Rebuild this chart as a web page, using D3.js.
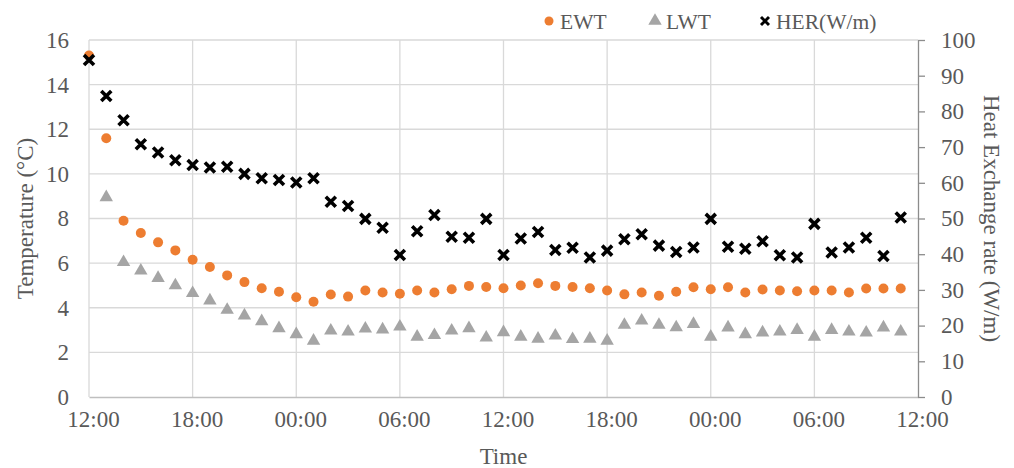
<!DOCTYPE html>
<html>
<head>
<meta charset="utf-8">
<script src="https://cdn.jsdelivr.net/npm/d3@7"></script>
<style>
  html, body { margin: 0; padding: 0; background: #fff; }
  svg { display: block; font-family: "Liberation Serif", "Times New Roman", serif; }
</style>
</head>
<body>
<svg id="chart" width="1014" height="468"></svg>
<script>
// Hourly samples, hour 0 = 12:00 on day 1, through 11:00 on day 3
const hours = d3.range(48);
const timeTickHours = [0, 6, 12, 18, 24, 30, 36, 42, 48];
const timeTickLabels = ["12:00", "18:00", "00:00", "06:00", "12:00", "18:00", "00:00", "06:00", "12:00"];

// Entering water temperature (°C)
const ewt = [15.3, 11.6, 7.9, 7.35, 6.93, 6.57, 6.15, 5.83, 5.45, 5.15,
             4.87, 4.72, 4.47, 4.27, 4.59, 4.50, 4.77, 4.68, 4.63, 4.77,
             4.68, 4.83, 4.98, 4.93, 4.87, 5.00, 5.10, 4.98, 4.93, 4.87,
             4.77, 4.60, 4.68, 4.54, 4.72, 4.92, 4.83, 4.92, 4.68, 4.82,
             4.77, 4.74, 4.77, 4.77, 4.68, 4.86, 4.86, 4.86];

// Leaving water temperature (°C); no reading at the first hour
const lwt = [null, 8.95, 6.04, 5.66, 5.33, 5.00, 4.65, 4.32, 3.90, 3.65,
             3.39, 3.08, 2.81, 2.52, 2.97, 2.93, 3.06, 3.02, 3.15, 2.70,
             2.77, 2.97, 3.08, 2.66, 2.90, 2.70, 2.61, 2.75, 2.59, 2.61,
             2.52, 3.23, 3.42, 3.23, 3.12, 3.27, 2.70, 3.11, 2.81, 2.89,
             2.93, 3.00, 2.70, 3.00, 2.93, 2.88, 3.11, 2.93];

// Heat exchange rate (W/m)
const her = [94.4, 84.3, 77.5, 70.8, 68.5, 66.3, 65.0, 64.3, 64.5, 62.5,
             61.3, 60.8, 60.1, 61.3, 54.7, 53.5, 49.9, 47.4, 39.8, 46.4,
             51.0, 44.9, 44.6, 49.9, 39.8, 44.4, 46.2, 41.2, 41.8, 39.1,
             41.0, 44.2, 45.6, 42.4, 40.6, 41.9, 49.9, 42.1, 41.5, 43.6,
             39.7, 39.1, 48.5, 40.5, 41.9, 44.6, 39.5, 50.3];

const tempTicks = [0, 2, 4, 6, 8, 10, 12, 14, 16];
const herTicks = [0, 10, 20, 30, 40, 50, 60, 70, 80, 90, 100];

const legendItems = [
  { key: "EWT", label: "EWT" },
  { key: "LWT", label: "LWT" },
  { key: "HER", label: "HER(W/m)" }
];

// Layout
const plotLeft = 89, plotRight = 918, plotTop = 40, plotBottom = 397;
const textColor = "#595959";
const gridColor = "#d9d9d9";
const orange = "#ED7D31";
const grey = "#A5A5A5";

const svg = d3.select("#chart");

const x = d3.scaleLinear().domain([0, 48]).range([plotLeft, plotRight]);
const yT = d3.scaleLinear().domain([0, 16]).range([plotBottom, plotTop]);
const yH = d3.scaleLinear().domain([0, 100]).range([plotBottom, plotTop]);

// Gridlines
const grid = svg.append("g");
grid.selectAll("line.h").data(tempTicks.filter(d => d > 0)).join("line")
  .attr("class", "h")
  .attr("x1", plotLeft).attr("x2", plotRight)
  .attr("y1", d => yT(d)).attr("y2", d => yT(d))
  .attr("stroke", gridColor).attr("stroke-width", 1.3);
grid.selectAll("line.v").data(timeTickHours.slice(0, -1)).join("line")
  .attr("class", "v")
  .attr("x1", d => x(d)).attr("x2", d => x(d))
  .attr("y1", plotTop).attr("y2", plotBottom)
  .attr("stroke", gridColor).attr("stroke-width", 1.3);

// Bottom axis
const xAxis = svg.append("g")
  .attr("transform", `translate(0,${plotBottom})`)
  .call(d3.axisBottom(x)
    .tickValues(timeTickHours)
    .tickFormat((d, i) => timeTickLabels[i])
    .tickSize(0)
    .tickPadding(13));
xAxis.select(".domain").attr("stroke", "#bfbfbf").attr("stroke-width", 1.3);
xAxis.selectAll("text")
  .attr("fill", textColor).attr("font-size", 23)
  .attr("font-family", "Liberation Serif")
  .attr("dx", 4).attr("dy", "0.75em");

// Left axis (labels only)
const yAxisL = svg.append("g")
  .attr("transform", `translate(${plotLeft},0)`)
  .call(d3.axisLeft(yT).tickValues(tempTicks).tickSize(0).tickPadding(20));
yAxisL.select(".domain").remove();
yAxisL.selectAll("text")
  .attr("fill", textColor).attr("font-size", 23)
  .attr("font-family", "Liberation Serif");

// Right axis
const yAxisR = svg.append("g")
  .attr("transform", `translate(${plotRight},0)`)
  .call(d3.axisRight(yH).tickValues(herTicks).tickSize(7).tickSizeOuter(0).tickPadding(16));
yAxisR.select(".domain").attr("stroke", "#8c8c8c").attr("stroke-width", 1.3);
yAxisR.selectAll(".tick line").attr("stroke", "#8c8c8c").attr("stroke-width", 1.3);
yAxisR.selectAll("text")
  .attr("fill", textColor).attr("font-size", 23)
  .attr("font-family", "Liberation Serif");

// Axis titles
svg.append("text")
  .attr("transform", `translate(33,${(plotTop + plotBottom) / 2}) rotate(-90)`)
  .attr("text-anchor", "middle")
  .attr("fill", textColor).attr("font-size", 23)
  .text("Temperature (°C)");
svg.append("text")
  .attr("transform", `translate(984,${(plotTop + plotBottom) / 2}) rotate(90)`)
  .attr("text-anchor", "middle")
  .attr("fill", textColor).attr("font-size", 23)
  .text("Heat Exchange rate (W/m)");
svg.append("text")
  .attr("x", (plotLeft + plotRight) / 2).attr("y", 464)
  .attr("text-anchor", "middle")
  .attr("fill", textColor).attr("font-size", 23)
  .text("Time");

// Marker shapes
const triPath = d3.symbol().type(d3.symbolTriangle).size(78)();
const xPath = "M-5,-5L5,5M-5,5L5,-5";

function drawMarker(g, key) {
  if (key === "EWT") {
    g.append("circle").attr("r", 5).attr("fill", orange);
  } else if (key === "LWT") {
    g.append("path").attr("d", triPath).attr("fill", grey);
  } else {
    g.append("path").attr("d", xPath).attr("stroke", "#000")
      .attr("stroke-width", 3.6).attr("fill", "none");
  }
}

// Series
svg.append("g").selectAll("g")
  .data(hours.filter(h => lwt[h] != null)).join("g")
  .attr("transform", h => `translate(${x(h)},${yT(lwt[h])})`)
  .each(function () { drawMarker(d3.select(this), "LWT"); });

svg.append("g").selectAll("g")
  .data(hours).join("g")
  .attr("transform", h => `translate(${x(h)},${yT(ewt[h])})`)
  .each(function () { drawMarker(d3.select(this), "EWT"); });

svg.append("g").selectAll("g")
  .data(hours).join("g")
  .attr("transform", h => `translate(${x(h)},${yH(her[h])})`)
  .each(function () { drawMarker(d3.select(this), "HER"); });

// Legend
const legendX = [549, 655, 765];
const legend = svg.append("g");
legendItems.forEach((item, i) => {
  const g = legend.append("g").attr("transform", `translate(${legendX[i]},21)`);
  const m = g.append("g");
  drawMarker(m, item.key);
  if (item.key === "EWT") m.select("circle").attr("r", 4.5);
  if (item.key === "HER") m.select("path").attr("transform", "scale(0.8)");
  g.append("text")
    .attr("x", 11).attr("y", 7.5)
    .attr("fill", textColor).attr("font-size", 21.5)
    .text(item.label);
});
</script>
</body>
</html>
